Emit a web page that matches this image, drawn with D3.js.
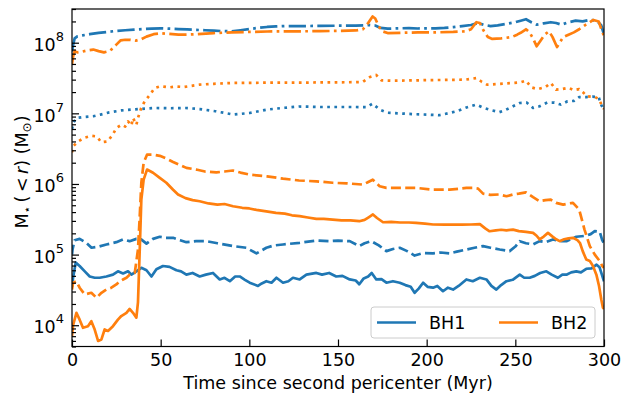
<!DOCTYPE html>
<html>
<head>
<meta charset="utf-8">
<script src="https://cdn.jsdelivr.net/npm/d3@7"></script>
<style>
  body { margin: 0; background: #fff; }
  svg text { font-family: "DejaVu Sans", sans-serif; fill: #000; }
</style>
</head>
<body>
<svg id="chart" width="622" height="394"></svg>
<script>
// [time (Myr), M_star(<r) (Msun)]
const bh1Solid = [
  [0, 3.5e4], [0.6, 4.7e4], [2.1, 7.7e4], [4.3, 6.9e4], [7.2, 5.8e4], [10, 4.9e4], [12.8, 4.7e4],
  [15.6, 4.7e4], [19.4, 4.9e4], [23.1, 5.2e4], [25.9, 5.8e4], [28.8, 5.4e4], [31.6, 5.8e4],
  [33.5, 5.2e4], [36.3, 5.8e4], [39.1, 6.5e4], [42, 6.0e4], [44.8, 4.9e4], [47.6, 6.2e4],
  [51.3, 6.9e4], [55, 6.7e4], [58.9, 6.0e4], [61.5, 5.8e4], [64.5, 5.2e4], [68, 5.5e4],
  [72, 4.9e4], [75.5, 5.2e4], [79.5, 5.5e4], [83.3, 4.45e4], [86, 4.7e4], [89, 4.2e4],
  [92, 4.9e4], [94.6, 4.9e4], [97.5, 4.4e4], [100.2, 4.0e4], [104.9, 3.6e4], [107, 3.9e4],
  [109.6, 4.2e4], [112.5, 4.0e4], [115.3, 4.7e4], [119, 4.0e4], [122, 4.2e4], [124.6, 4.7e4],
  [128.4, 4.45e4], [132.2, 5.2e4], [137.8, 5.5e4], [141, 5.2e4], [145, 5.5e4], [149, 4.9e4],
  [152.5, 5.0e4], [156.6, 4.45e4], [160, 4.3e4], [162, 3.8e4], [164.5, 4.6e4], [167, 4.9e4],
  [169, 5.5e4], [171.6, 4.45e4], [174.5, 4.5e4], [177.3, 4.0e4], [181, 4.2e4], [184.8, 4.0e4],
  [188, 3.7e4], [191, 3.5e4], [193.2, 2.88e4], [195.5, 3.3e4], [198, 4.0e4], [200.5, 3.5e4],
  [203.6, 3.4e4], [206, 3.6e4], [209.2, 3.03e4], [212, 3.4e4], [214.9, 3.2e4], [218, 3.6e4],
  [222.4, 4.45e4], [226, 4.2e4], [230, 4.7e4], [233.7, 4.45e4], [236.5, 3.6e4], [239.3, 3.2e4],
  [242, 3.7e4], [245, 4.2e4], [248.5, 4.4e4], [252.5, 5.2e4], [255, 4.7e4], [258.1, 4.7e4],
  [261, 5.0e4], [264, 5.5e4], [267.5, 5.8e4], [270.5, 5.2e4], [274, 4.7e4], [276.5, 5.2e4],
  [278.8, 5.2e4], [281.5, 5.6e4], [284.4, 5.8e4], [287, 5.6e4], [290, 6.3e4], [293, 6.4e4],
  [295.8, 7.2e4], [297.5, 6.6e4], [298.5, 5.5e4], [300, 4.2e4]
];

const bh1Dashed = [
  [0, 1.0e5], [0.3, 1.18e5], [1.5, 1.6e5], [4.3, 1.67e5], [8, 1.47e5], [11, 1.25e5],
  [14.7, 1.29e5], [19.4, 1.39e5], [25, 1.5e5], [28.8, 1.64e5], [32.5, 1.55e5], [36.3, 1.67e5],
  [39, 1.64e5], [42, 1.43e5], [45.7, 1.67e5], [49.5, 1.79e5], [53, 1.73e5], [57, 1.73e5],
  [61, 1.6e5], [64.5, 1.5e5], [70, 1.55e5], [75.8, 1.55e5], [82, 1.45e5], [90.8, 1.32e5],
  [98.3, 1.25e5], [104, 1.04e5], [109.6, 1.25e5], [114, 1.35e5], [119, 1.39e5], [128.4, 1.47e5],
  [137.8, 1.58e5], [145, 1.55e5], [150, 1.58e5], [156.6, 1.55e5], [162, 1.32e5], [165, 1.45e5],
  [168.8, 1.55e5], [173, 1.35e5], [177.3, 1.12e5], [181, 1.2e5], [184.8, 1.25e5], [189, 1.12e5],
  [193.2, 9.7e4], [198, 1.05e5], [203.6, 1.04e5], [208, 1.07e5], [213, 1.04e5], [217, 1.1e5],
  [222.4, 1.18e5], [227, 1.25e5], [231.8, 1.32e5], [236, 1.25e5], [241.2, 1.18e5], [246.8, 1.12e5],
  [250, 1.3e5], [252.5, 1.55e5], [256, 1.45e5], [260, 1.39e5], [263.7, 1.55e5], [267, 1.5e5],
  [271.2, 1.64e5], [275, 1.55e5], [278.8, 1.55e5], [284.4, 1.79e5], [290, 1.85e5], [292.5, 1.95e5],
  [294.8, 2.15e5], [297.6, 2.1e5], [299, 1.6e5], [300, 1.45e5]
];

const bh1Dotted = [
  [0, 6.0e6], [0.7, 7.3e6], [2.5, 8.6e6], [7, 8.9e6], [12, 9.1e6], [16, 9.6e6], [21, 1.03e7],
  [28, 1.1e7], [38, 1.15e7], [47, 1.19e7], [55, 1.18e7], [64, 1.19e7], [72, 1.15e7], [81, 1.07e7],
  [91, 9.6e6], [100, 1.01e7], [110, 1.13e7], [120, 1.2e7], [128, 1.25e7], [140, 1.23e7],
  [150, 1.23e7], [160, 1.23e7], [166, 1.22e7], [169.5, 1.37e7], [173.5, 1.13e7], [178, 1.02e7],
  [190, 9.8e6], [200, 9.6e6], [207, 9.4e6], [212, 1.0e7], [217, 1.07e7], [222, 1.2e7],
  [228, 1.33e7], [232, 1.2e7], [237, 1.1e7], [241, 1.04e7], [244, 1.1e7], [248.7, 1.26e7],
  [252.5, 1.4e7], [256.4, 1.42e7], [260, 1.19e7], [263.7, 1.26e7], [268, 1.42e7], [272, 1.42e7],
  [275.6, 1.33e7], [279.4, 1.48e7], [283, 1.5e7], [286, 1.7e7], [290, 1.7e7], [293.5, 1.72e7],
  [297, 1.7e7], [298.3, 1.33e7], [300, 1.12e7]
];

const bh1DashDot = [
  [0, 7.5e7], [0.7, 9.5e7], [1.5, 1.15e8], [3, 1.23e8], [6, 1.27e8], [10, 1.32e8], [15, 1.38e8],
  [20, 1.42e8], [25, 1.47e8], [30, 1.5e8], [35, 1.53e8], [40, 1.56e8], [45, 1.58e8], [50, 1.6e8],
  [55, 1.58e8], [60, 1.56e8], [65, 1.54e8], [70, 1.52e8], [75, 1.5e8], [80, 1.48e8], [85, 1.46e8],
  [90, 1.45e8], [95, 1.5e8], [100, 1.56e8], [105, 1.62e8], [110, 1.67e8], [115, 1.7e8],
  [120, 1.72e8], [130, 1.72e8], [140, 1.73e8], [150, 1.74e8], [160, 1.75e8], [165, 1.76e8],
  [168, 1.78e8], [171, 1.75e8], [174, 1.62e8], [178, 1.58e8], [185, 1.6e8], [190, 1.61e8],
  [195, 1.59e8], [200, 1.6e8], [205, 1.6e8], [210, 1.62e8], [215, 1.66e8], [220, 1.72e8],
  [225, 1.78e8], [229, 1.9e8], [232, 1.8e8], [236, 1.72e8], [240, 1.76e8], [245, 1.85e8],
  [250, 1.95e8], [253, 2.05e8], [256, 2.15e8], [259, 1.95e8], [262, 1.8e8], [266, 1.88e8],
  [270, 1.95e8], [273, 1.9e8], [276, 1.8e8], [280, 1.95e8], [284, 2.05e8], [288, 2.0e8],
  [292, 2.1e8], [296, 2.05e8], [298.5, 1.75e8], [300, 1.3e8]
];

const bh2Solid = [
  [0, 7.0e3], [0.6, 1.0e4], [2.5, 1.5e4], [4.3, 1.2e4], [6.2, 9.2e3], [9, 9.7e3], [10.9, 1.14e4],
  [12.8, 8.7e3], [14.7, 6.0e3], [16.6, 6.3e3], [18.4, 8.7e3], [20.3, 8.3e3], [23.1, 9.7e3],
  [25.9, 1.2e4], [27.8, 1.35e4], [30.7, 1.5e4], [32.5, 1.7e4], [34.4, 1.5e4], [36.3, 1.28e4],
  [37.2, 2.1e4], [38.2, 1.18e5], [39.1, 6.0e5], [40.4, 1.15e6], [42.3, 1.6e6], [45.7, 1.44e6],
  [49.5, 1.22e6], [53.2, 1.04e6], [57, 8.3e5], [59.8, 7.1e5], [64, 6.3e5], [68, 5.9e5],
  [72, 5.7e5], [77, 5.3e5], [82, 5.1e5], [86, 5.2e5], [90.8, 4.84e5], [96, 4.6e5], [100, 4.5e5],
  [104, 4.3e5], [109.6, 4.1e5], [115, 3.9e5], [120, 3.8e5], [124, 3.6e5], [128.4, 3.5e5],
  [133, 3.35e5], [137.8, 3.2e5], [142, 3.2e5], [147, 3.13e5], [152, 3.05e5], [157, 3.05e5],
  [162, 2.97e5], [165, 3.1e5], [167.5, 3.4e5], [169.7, 3.7e5], [172, 3.3e5], [175.4, 2.87e5],
  [180, 2.9e5], [185, 2.85e5], [190, 2.85e5], [194, 2.82e5], [199, 2.75e5], [203.6, 2.67e5],
  [210, 2.65e5], [215, 2.67e5], [220, 2.65e5], [225, 2.67e5], [230, 2.7e5], [233, 2.35e5],
  [235.5, 2.14e5], [239, 2.2e5], [242, 2.25e5], [245, 2.2e5], [248.7, 2.26e5], [252, 2.15e5],
  [256, 2.1e5], [260, 2.03e5], [262, 1.85e5], [263.7, 1.64e5], [266, 1.8e5], [268.4, 2.03e5],
  [271, 1.8e5], [273, 1.65e5], [275, 1.55e5], [277.5, 1.65e5], [280, 1.7e5], [282.5, 1.73e5],
  [285, 1.6e5], [286.5, 1.45e5], [288, 1.12e5], [290, 8.5e4], [292, 8.1e4], [293.8, 6.9e4],
  [295.7, 5.2e4], [297.2, 3.6e4], [298.5, 2.3e4], [299.4, 1.77e4], [300, 1.7e4]
];

const bh2Dashed = [
  [0, 3.2e4], [0.6, 4.0e4], [2.5, 4.2e4], [4.3, 3.4e4], [7.2, 2.73e4], [10.9, 2.88e4],
  [13.8, 2.45e4], [16.6, 2.88e4], [19.4, 3.2e4], [22.2, 3.4e4], [25, 3.78e4], [27, 4.2e4],
  [28.8, 4.44e4], [30.7, 4.7e4], [32.5, 5.2e4], [35.4, 5.5e4], [37.2, 1.18e5], [38.2, 3.5e5],
  [39.1, 1.04e6], [40.4, 2.0e6], [42.3, 2.6e6], [45.7, 2.6e6], [49.5, 2.5e6], [53, 2.3e6],
  [57, 2.05e6], [61, 1.85e6], [64.5, 1.69e6], [70, 1.6e6], [75, 1.5e6], [81.4, 1.46e6],
  [86, 1.5e6], [90.7, 1.55e6], [95, 1.45e6], [100, 1.36e6], [110, 1.28e6], [119, 1.19e6],
  [128, 1.12e6], [137.8, 1.09e6], [147, 1.04e6], [155, 1.02e6], [164, 9.8e5], [166.5, 1.05e6],
  [169.6, 1.15e6], [173.5, 9.3e5], [177.3, 8.8e5], [185, 8.8e5], [194, 8.8e5], [203.6, 8.3e5],
  [213, 8.3e5], [222.4, 8.8e5], [226, 8.8e5], [229, 8.6e5], [231.8, 7.3e5], [236, 7.0e5],
  [241, 7.1e5], [245, 6.7e5], [248.7, 7.1e5], [252, 7.3e5], [256, 7.6e5], [260, 6.5e5],
  [263.7, 5.7e5], [267, 5.9e5], [270, 6.0e5], [273, 5.4e5], [277, 5.1e5], [280, 5.3e5],
  [282.5, 5.4e5], [286, 4.35e5], [289, 2.26e5], [292, 1.32e5], [294.8, 1.0e5], [297.6, 8.1e4],
  [299, 6.9e4], [300, 6.5e4]
];

const bh2Dotted = [
  [0, 2.8e6], [0.6, 3.4e6], [3.4, 4.0e6], [7, 4.5e6], [11, 4.8e6], [14, 4.7e6], [16.5, 3.9e6],
  [20, 4.0e6], [23, 5.0e6], [25, 6.2e6], [28, 6.9e6], [30, 6.5e6], [31.6, 7.7e6], [33.5, 6.7e6],
  [34.4, 8.6e6], [36.3, 6.9e6], [37.2, 8.6e6], [39, 1.19e7], [41, 1.48e7], [44, 1.84e7],
  [46.6, 2.28e7], [50, 2.42e7], [55, 2.33e7], [59, 2.4e7], [63, 2.36e7], [72, 2.55e7],
  [80, 2.62e7], [90, 2.69e7], [100, 2.7e7], [110, 2.72e7], [120, 2.73e7], [130, 2.72e7],
  [140, 2.74e7], [150, 2.75e7], [160, 2.76e7], [164, 2.78e7], [168, 3.27e7], [171.5, 3.5e7],
  [174.5, 2.93e7], [180, 2.9e7], [190, 2.92e7], [200, 2.95e7], [210, 2.97e7], [222, 3.0e7],
  [228, 3.16e7], [231, 2.8e7], [234, 2.55e7], [240, 2.6e7], [248, 2.69e7], [253, 2.75e7],
  [256, 2.9e7], [259, 2.33e7], [262.6, 2.2e7], [267, 2.36e7], [270, 2.69e7], [273, 2.16e7],
  [276, 2.2e7], [280, 2.3e7], [283, 2.13e7], [286, 2.2e7], [288, 2.0e7], [290.5, 1.74e7],
  [295, 1.7e7], [297, 1.6e7], [298.5, 1.35e7], [300, 1.15e7]
];

const bh2DashDot = [
  [0, 5.0e7], [0.7, 6.5e7], [1.5, 7.6e7], [3, 7.3e7], [6, 7.5e7], [9, 7.8e7], [12, 8.0e7],
  [15, 7.6e7], [18, 7.3e7], [21, 7.6e7], [23, 8.3e7], [25, 9.4e7], [27.5, 1.08e8], [30, 1.1e8],
  [33, 1.1e8], [36, 1.07e8], [39, 1.12e8], [42, 1.22e8], [46, 1.32e8], [50, 1.36e8], [55, 1.33e8],
  [60, 1.3e8], [65, 1.3e8], [70, 1.32e8], [80, 1.37e8], [90, 1.4e8], [100, 1.42e8], [110, 1.44e8],
  [120, 1.45e8], [130, 1.45e8], [140, 1.46e8], [150, 1.47e8], [160, 1.49e8], [164, 1.55e8],
  [167, 1.9e8], [169.5, 2.35e8], [171, 2.2e8], [173, 1.7e8], [175, 1.45e8], [178, 1.37e8],
  [185, 1.38e8], [195, 1.4e8], [205, 1.4e8], [215, 1.42e8], [222, 1.45e8], [225, 1.55e8],
  [228, 1.95e8], [230, 1.9e8], [232, 1.5e8], [234.5, 1.2e8], [237, 1.13e8], [242, 1.15e8],
  [248, 1.2e8], [251, 1.3e8], [253, 1.38e8], [256, 1.55e8], [258, 1.4e8], [260, 1.15e8],
  [262, 8.9e7], [264, 1.05e8], [266.5, 1.3e8], [269, 1.45e8], [271, 1.2e8], [273.5, 8.7e7],
  [275, 1.0e8], [277, 1.2e8], [280, 1.3e8], [283, 1.4e8], [286, 1.55e8], [289, 1.75e8],
  [292, 1.95e8], [294, 2.1e8], [297, 2.0e8], [298.5, 1.55e8], [300, 1.25e8]
];

const labels = ['BH1', 'BH2'];
const colors = ['#1f77b4', '#ff7f0e'];
const xTicks = [0, 50, 100, 150, 200, 250, 300];
const yTicks = [1e4, 1e5, 1e6, 1e7, 1e8];

const width = 622;
const height = 394;
const margin = {top: 9, right: 18, bottom: 47.5, left: 72};
const fontSize = 17.5;
const lw = 2.7;

const dashes = {
  solid: null,
  dashed: [3.7 * lw, 1.6 * lw],
  dotted: [1 * lw, 1.65 * lw],
  dashdot: [6.4 * lw, 1.6 * lw, 1 * lw, 1.6 * lw],
};

const series = [
  {data: bh1Solid, color: colors[0], style: 'solid'},
  {data: bh1Dashed, color: colors[0], style: 'dashed'},
  {data: bh1Dotted, color: colors[0], style: 'dotted'},
  {data: bh1DashDot, color: colors[0], style: 'dashdot'},
  {data: bh2Solid, color: colors[1], style: 'solid'},
  {data: bh2Dashed, color: colors[1], style: 'dashed'},
  {data: bh2Dotted, color: colors[1], style: 'dotted'},
  {data: bh2DashDot, color: colors[1], style: 'dashdot'},
];

const svg = d3.select('#chart');

const x = d3.scaleLinear()
    .domain([0, 300])
    .range([margin.left, width - margin.right]);

const y = d3.scaleLog()
    .domain([5e3, 3e8])
    .range([height - margin.bottom, margin.top]);

svg.append('defs').append('clipPath')
    .attr('id', 'plot-clip')
  .append('rect')
    .attr('x', margin.left)
    .attr('y', margin.top)
    .attr('width', width - margin.left - margin.right)
    .attr('height', height - margin.top - margin.bottom);

const line = d3.line()
    .x(d => x(d[0]))
    .y(d => y(d[1]));

svg.append('g')
    .attr('clip-path', 'url(#plot-clip)')
  .selectAll('path')
  .data(series)
  .join('path')
    .attr('d', d => line(d.data))
    .attr('fill', 'none')
    .attr('stroke', d => d.color)
    .attr('stroke-width', lw)
    .attr('stroke-linejoin', 'round')
    .attr('stroke-dasharray', d => dashes[d.style] ? dashes[d.style].join(',') : null);

// minor ticks for the log axis
const minorTicks = [];
for (let e = 3; e <= 8; e++) {
  for (let m = 2; m <= 9; m++) {
    const v = m * Math.pow(10, e);
    if (v >= 5e3 && v <= 3e8) minorTicks.push(v);
  }
}

const xAxis = svg.append('g')
    .attr('transform', `translate(0,${height - margin.bottom})`)
    .call(d3.axisBottom(x)
      .tickValues(xTicks)
      .tickSize(-7)
      .tickPadding(7)
      .tickFormat(d3.format('d')));

xAxis.selectAll('text')
    .attr('font-size', fontSize)
    .attr('font-family', '"DejaVu Sans", sans-serif');

const yMinor = svg.append('g')
    .attr('transform', `translate(${margin.left},0)`)
    .call(d3.axisLeft(y)
      .tickValues(minorTicks)
      .tickSize(-4)
      .tickFormat(''));

const yAxis = svg.append('g')
    .attr('transform', `translate(${margin.left},0)`)
    .call(d3.axisLeft(y)
      .tickValues(yTicks)
      .tickSize(-7)
      .tickPadding(8)
      .tickFormat(''));

yAxis.selectAll('.tick text')
    .attr('font-size', fontSize)
    .attr('font-family', '"DejaVu Sans", sans-serif')
    .attr('dy', '0.44em')
    .each(function(d) {
      const t = d3.select(this);
      t.text('10');
      t.append('tspan')
          .attr('dy', -10)
          .attr('font-size', 13)
          .text(Math.round(Math.log10(d)));
    });

[xAxis, yMinor, yAxis].forEach(g => {
  g.select('.domain').remove();
  g.selectAll('line').attr('stroke', '#000').attr('stroke-width', 1.2);
});

// frame
svg.append('rect')
    .attr('x', margin.left)
    .attr('y', margin.top)
    .attr('width', width - margin.left - margin.right)
    .attr('height', height - margin.top - margin.bottom)
    .attr('fill', 'none')
    .attr('stroke', '#000')
    .attr('stroke-width', 1.2);

// axis labels
svg.append('text')
    .attr('x', (margin.left + width - margin.right) / 2)
    .attr('y', 389)
    .attr('text-anchor', 'middle')
    .attr('font-size', fontSize)
    .text('Time since second pericenter (Myr)');

const yLabel = svg.append('text')
    .attr('transform', 'translate(28,172) rotate(-90)')
    .attr('text-anchor', 'middle')
    .attr('font-size', fontSize);

yLabel.append('tspan').text('M');
yLabel.append('tspan').attr('font-size', 12).attr('dy', 3).text('\u22C6');
yLabel.append('tspan').attr('dy', -3).text('\u2009(\u2009<\u2009');
yLabel.append('tspan').attr('font-style', 'italic').text('r');
yLabel.append('tspan').text(') (M');
yLabel.append('tspan').attr('font-size', 12).attr('dy', 3).text('\u2299');
yLabel.append('tspan').attr('dy', -3).text(')');

// legend
const legend = svg.append('g');

legend.append('rect')
    .attr('x', 371)
    .attr('y', 307)
    .attr('width', 224)
    .attr('height', 31)
    .attr('rx', 3)
    .attr('fill', '#fff')
    .attr('fill-opacity', 0.8)
    .attr('stroke', '#cccccc')
    .attr('stroke-width', 1);

const legendItems = legend.selectAll('.item')
  .data(labels)
  .join('g')
    .attr('class', 'item')
    .attr('transform', (d, i) => `translate(${377 + i * 122},322.5)`);

legendItems.append('line')
    .attr('x1', 0)
    .attr('x2', 39)
    .attr('stroke', (d, i) => colors[i])
    .attr('stroke-width', lw);

legendItems.append('text')
    .attr('x', 52)
    .attr('dy', '0.36em')
    .attr('font-size', fontSize)
    .text(d => d);
</script>
</body>
</html>
